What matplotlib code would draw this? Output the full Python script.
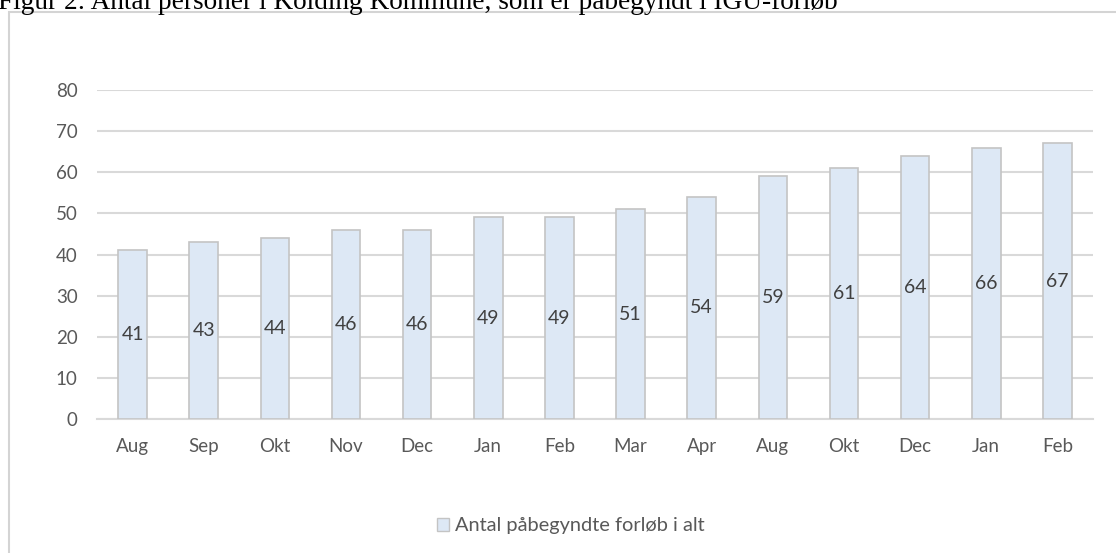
import matplotlib
matplotlib.use("Agg")
import matplotlib.pyplot as plt
from matplotlib.patches import Rectangle, Patch
import numpy as np

months = ["Aug", "Sep", "Okt", "Nov", "Dec", "Jan", "Feb", "Mar", "Apr",
          "Aug", "Okt", "Dec", "Jan", "Feb"]
values = [41, 43, 44, 46, 46, 49, 49, 51, 54, 59, 61, 64, 66, 67]
y_ticks = [0, 10, 20, 30, 40, 50, 60, 70, 80]

title = "Figur 2: Antal personer i Kolding Kommune, som er påbegyndt i IGU-forløb"
series_name = "Antal påbegyndte forløb i alt"

W, H = 1116, 553
fig = plt.figure(figsize=(W / 100, H / 100), dpi=100)

# chart frame (cut off at the right and bottom)
fig.patches.append(Rectangle((9 / W, -0.1), 1.2, 1 - 12 / H + 0.1,
                             transform=fig.transFigure, fill=False,
                             edgecolor="#d4d4d4", linewidth=1.5))

# title, clipped at the top like the screenshot
fig.text(-2 / W, 1 - 9 / H, title, family="Liberation Serif", fontsize=19.6,
         color="black", ha="left", va="baseline")

ax = fig.add_axes([97 / W, 1 - 419 / H, (1093 - 97) / W, (419 - 90) / H])
x = np.arange(len(months))
bars = ax.bar(x, values, width=0.4, color="#dde8f5", edgecolor="#c4c4c4",
              linewidth=1.2, zorder=3)

for xi, v in zip(x, values):
    ax.text(xi, v / 2, str(v), ha="center", va="center", family="Lato",
            fontsize=14, color="#404040", zorder=4)

ax.set_xlim(-0.5, len(months) - 0.5)
ax.set_ylim(0, 80)
ax.set_yticks(y_ticks)
ax.set_xticks(x)
ax.set_xticklabels(months)
ax.yaxis.grid(True, color="#d9d9d9", linewidth=1.5, zorder=0)
ax.set_axisbelow(True)
for s in ["top", "right", "left"]:
    ax.spines[s].set_visible(False)
ax.spines["bottom"].set_color("#d9d9d9")
ax.spines["bottom"].set_linewidth(1.5)
ax.tick_params(length=0, labelsize=13.5, labelcolor="#595959")
ax.tick_params(axis="y", pad=14)
ax.tick_params(axis="x", pad=14)
for lab in ax.get_xticklabels() + ax.get_yticklabels():
    lab.set_family("Lato")

handle = Patch(facecolor="#dde8f5", edgecolor="#c4c4c4", linewidth=1.0)
fig.legend([handle], [series_name], loc="center", bbox_to_anchor=(571 / W, 1 - 526 / H),
           frameon=False, prop={"family": "Lato", "size": 14.4}, labelcolor="#595959",
           handlelength=0.6, handleheight=0.6, handletextpad=0.3)

fig.savefig("out.png", dpi=100)
